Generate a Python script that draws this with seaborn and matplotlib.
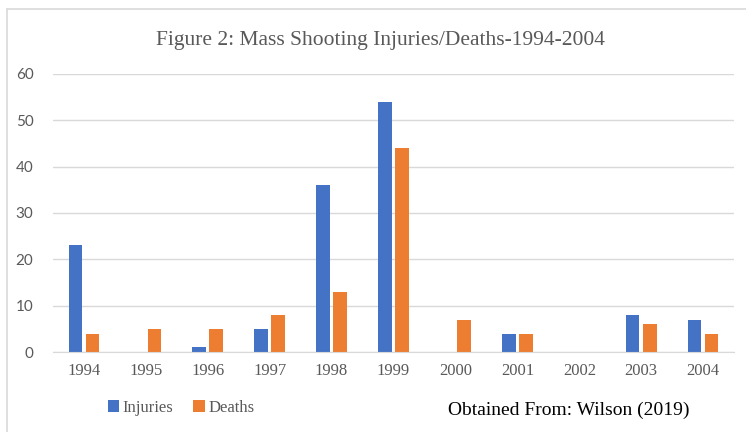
import pandas as pd
import matplotlib
matplotlib.use('Agg')
import matplotlib.pyplot as plt
import matplotlib.lines as mlines
import seaborn as sns

# Data
years = ['1994', '1995', '1996', '1997', '1998', '1999',
         '2000', '2001', '2002', '2003', '2004']
injuries = [23, 0, 1, 5, 36, 54, 0, 4, 0, 8, 7]
deaths = [4, 5, 5, 8, 13, 44, 7, 4, 0, 6, 4]

df = pd.DataFrame({
    'Year': years * 2,
    'Count': injuries + deaths,
    'Series': ['Injuries'] * len(years) + ['Deaths'] * len(years),
})

sns.set_style('white')
plt.rcParams['font.family'] = ['Liberation Serif', 'DejaVu Serif']

fig = plt.figure(figsize=(7.46, 4.32), dpi=100)
ax = fig.add_axes([0.071, 0.185, 0.913, 0.644])

sns.barplot(
    data=df, x='Year', y='Count', hue='Series',
    palette=['#4472C4', '#ED7D31'], saturation=1,
    width=0.55, gap=0.2, linewidth=0,
    ax=ax, legend=True
)

ax.set_ylim(0, 60)
ax.set_yticks(range(0, 61, 10))
ax.set_xlim(-0.5, len(years) - 0.5)
ax.yaxis.grid(True, color='#D9D9D9', linewidth=1)
ax.set_axisbelow(True)
for side in ['top', 'right', 'left']:
    ax.spines[side].set_visible(False)
ax.spines['bottom'].set_color('#D9D9D9')
ax.tick_params(length=0)
ax.set_xlabel('')
ax.set_ylabel('')

for lbl in ax.get_yticklabels():
    lbl.set_fontfamily('Lato')
    lbl.set_fontsize(11)
    lbl.set_color('#595959')
ax.tick_params(axis='y', pad=14)
for lbl in ax.get_xticklabels():
    lbl.set_fontsize(12)
    lbl.set_color('#595959')
ax.tick_params(axis='x', pad=8)

# Legend at bottom left
leg = ax.legend(
    loc='center left', bbox_to_anchor=(101 / 746, 1 - 408 / 432),
    bbox_transform=fig.transFigure, ncol=2, frameon=False,
    fontsize=12, handlelength=0.7, handleheight=0.7,
    handletextpad=0.2, columnspacing=1.2, borderaxespad=0
)
for t in leg.get_texts():
    t.set_color('#595959')

fig.text(380 / 746, 1 - 40 / 432,
         'Figure 2: Mass Shooting Injuries/Deaths-1994-2004',
         ha='center', va='center', fontsize=15.5, color='#595959')
fig.text(569 / 746, 1 - 410 / 432, 'Obtained From: Wilson (2019)',
         ha='center', va='center', fontsize=14, color='black')

# Frame lines (top and left edge of the chart box)
fig.add_artist(mlines.Line2D([7 / 746, 1], [1 - 9 / 432, 1 - 9 / 432],
                             color='#D9D9D9', linewidth=1.2))
fig.add_artist(mlines.Line2D([7 / 746, 7 / 746], [0, 1 - 9 / 432],
                             color='#D9D9D9', linewidth=1.2))

fig.savefig('out.png', dpi=100)
